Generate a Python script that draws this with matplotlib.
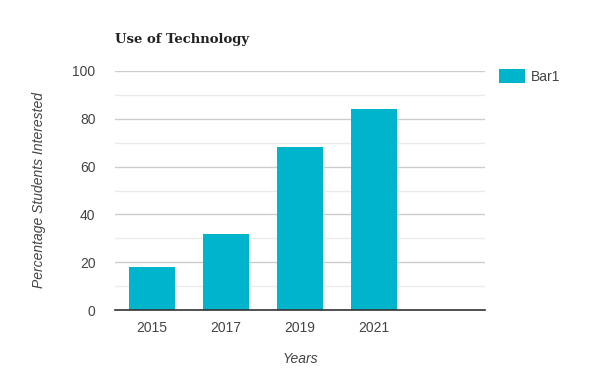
import matplotlib.pyplot as plt
import numpy as np

# Data
years = ['2015', '2017', '2019', '2021', '']
values = [18, 32, 68, 84, np.nan]
series_name = 'Bar1'

bar_color = '#00b4cc'
text_color = '#444444'

plt.rcParams['font.family'] = ['Liberation Sans', 'DejaVu Sans']

fig = plt.figure(figsize=(6, 3.8), dpi=100)
ax = fig.add_axes([115 / 600, 1 - 310 / 380, 370 / 600, 239 / 380])

x = np.arange(len(years))
ax.bar(x, values, width=0.61, color=bar_color, label=series_name, zorder=3)

ax.set_xlim(-0.5, len(years) - 0.5)
ax.set_ylim(0, 100)
ax.set_yticks(np.arange(0, 101, 20))
ax.set_yticks(np.arange(10, 100, 20), minor=True)
ax.set_xticks(x)
ax.set_xticklabels(years)

ax.grid(axis='y', which='major', color='#cccccc', linewidth=1, zorder=0)
ax.grid(axis='y', which='minor', color='#ebebeb', linewidth=1, zorder=0)
ax.tick_params(axis='both', which='both', length=0, labelsize=10, colors=text_color)
ax.tick_params(axis='y', pad=14)
ax.tick_params(axis='x', pad=8)

for side in ['top', 'right', 'left']:
    ax.spines[side].set_visible(False)
ax.spines['bottom'].set_color('#333333')
ax.spines['bottom'].set_linewidth(1.2)
ax.spines['bottom'].set_zorder(4)

ax.set_ylabel('Percentage Students Interested', fontsize=10, style='italic',
              color=text_color, labelpad=19)
ax.set_xlabel('Years', fontsize=10, style='italic', color=text_color, labelpad=12)

fig.text(115 / 600, 1 - 40 / 380, 'Use of Technology', fontsize=9.5,
         fontweight='bold', family='DejaVu Serif', color='#222222', va='center')

ax.legend(loc='upper left', bbox_to_anchor=(499 / 600, 1 - 69 / 380),
          bbox_transform=fig.transFigure, frameon=False, fontsize=10,
          handlelength=1.9, handleheight=1.2, handletextpad=0.4,
          labelcolor=text_color, borderaxespad=0, borderpad=0)

fig.savefig('out.png', dpi=100)
